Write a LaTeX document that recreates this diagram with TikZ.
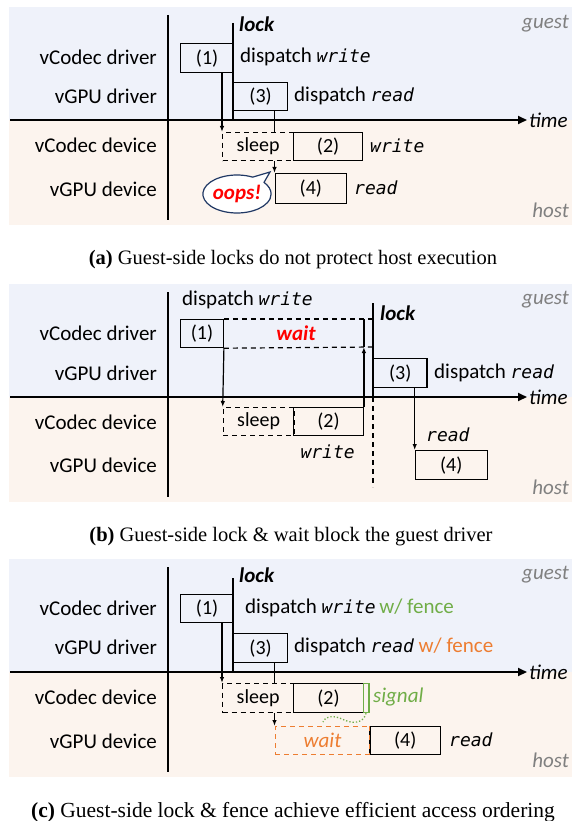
\documentclass[tikz,border=0pt]{standalone}
\usepackage{fontspec}
\setmainfont{Carlito}
\newfontfamily\monofam{DejaVu Sans Mono}
\newfontfamily\capfont{Liberation Serif}
\usetikzlibrary{arrows.meta,shapes.callouts,shapes.geometric}
\definecolor{guestbg}{RGB}{239,242,250}
\definecolor{hostbg}{RGB}{252,244,238}
\definecolor{fgreen}{RGB}{112,173,71}
\definecolor{forange}{RGB}{237,125,49}
\definecolor{bubblecol}{RGB}{32,56,100}
\definecolor{graytxt}{RGB}{128,128,128}
\newcommand{\mw}[1]{{\monofam\itshape\fontsize{18}{20}\selectfont #1}}
\tikzset{
  lab/.style={font=\fontsize{21}{24}\selectfont, inner sep=0pt},
  lane/.style={lab, anchor=east},
  box/.style={draw, line width=1.2pt, inner sep=0pt, anchor=north west, font=\fontsize{20}{22}\selectfont},
  dbox/.style={box, dashed, dash pattern=on 5pt off 4pt},
  axisl/.style={line width=2pt},
  timeax/.style={line width=2pt, -{Triangle[length=9pt,width=8pt]}},
  arr/.style={line width=1.2pt, -{Latex[length=6pt,width=4.5pt]}},
  conn/.style={line width=1.2pt},
  side/.style={lab, anchor=east, text=graytxt, font=\fontsize{21}{24}\selectfont\itshape},
  lockt/.style={lab, anchor=west, font=\fontsize{21}{24}\selectfont\bfseries\itshape},
  captext/.style={inner sep=0pt, font=\capfont\fontsize{20.5}{24}\selectfont}
}
\begin{document}
\begin{tikzpicture}[x=1pt,y=-1pt]
\useasboundingbox (0,0) rectangle (574,821);
% ================= panel (a) =================
\fill[guestbg] (9,7) rectangle (572,120);
\fill[hostbg] (9,120) rectangle (572,225);
\draw[axisl] (167.5,15) -- (167.5,220);
\coordinate (aT0) at (10,120);
\coordinate (aT1) at (527,120);
\draw[timeax] (aT0) -- (aT1);
\node[lab, anchor=west, font=\fontsize{21}{24}\selectfont\itshape] (atime) at (529,120) {time};
\node[side] (aguest) at (569,24) {guest};
\node[side] (ahost) at (569,210) {host};
\node[lane] (al1) at (157,57) {vCodec driver};
\node[lane] (al2) at (157,96) {vGPU driver};
\node[lane] (al3) at (157,145) {vCodec device};
\node[lane] (al4) at (157,189) {vGPU device};
\coordinate (alockT) at (233,23);
\coordinate (alockB) at (233,120);
\draw[conn] (alockT) -- (alockB);
\node[lockt] (alock) at (239,24) {lock};
\node[box, minimum width=53pt, minimum height=29pt] (a1) at (180,43) {(1)};
\node[box, minimum width=54pt, minimum height=28pt] (a3) at (233,82) {(3)};
\node[lab, anchor=west] (ad1) at (240,57) {dispatch \mw{write}};
\node[lab, anchor=west] (ad3) at (294,96) {dispatch \mw{read}};
\node[dbox, minimum width=71pt, minimum height=28pt] (aS) at (222,132) {sleep};
\node[box, minimum width=69pt, minimum height=28pt] (a2) at (293,132) {(2)};
\node[lab, anchor=west] (aw) at (370,146) {\mw{write}};
\node[box, minimum width=71.5pt, minimum height=30pt] (a4) at (274.5,173) {(4)};
\node[lab, anchor=west] (ar) at (354,188) {\mw{read}};
\draw[arr] (a1.south -| aS.north west) -- (aS.north west);
\draw[conn] (a3.south -| a4.north west) -- (aS.north -| a4.north west);
\draw[arr] (aS.south -| a4.north west) -- (a4.north west);
\node[ellipse callout, draw=bubblecol, line width=1.2pt, fill=white, minimum width=62pt, minimum height=38pt, inner sep=0pt,
  callout absolute pointer={(270,172)}, callout pointer arc=25,
  text=red, font=\fontsize{21}{24}\selectfont\bfseries\itshape] (aoops) at (237,194) {oops!};
% ================= panel (b) =================
\fill[guestbg] (9,284) rectangle (572,397);
\fill[hostbg] (9,397) rectangle (572,502);
\draw[axisl] (167.5,292) -- (167.5,497);
\coordinate (bT0) at (10,397);
\coordinate (bT1) at (527,397);
\draw[timeax] (bT0) -- (bT1);
\node[lab, anchor=west, font=\fontsize{21}{24}\selectfont\itshape] (btime) at (529,397) {time};
\node[side] (bguest) at (569,300) {guest};
\node[side] (bhost) at (569,487) {host};
\node[lane] (bl1) at (157,333) {vCodec driver};
\node[lane] (bl2) at (157,373) {vGPU driver};
\node[lane] (bl3) at (157,422) {vCodec device};
\node[lane] (bl4) at (157,465) {vGPU device};
\node[lab, anchor=west] (bd1) at (182,300) {dispatch \mw{write}};
\node[box, minimum width=42.7pt, minimum height=28pt] (b1) at (180,319) {(1)};
\coordinate (bwTR) at (373,319);
\coordinate (bwBR) at (373,347);
\draw[conn, dashed, dash pattern=on 5pt off 4pt] (b1.north east) -- (bwTR);
\draw[conn, dashed, dash pattern=on 5pt off 4pt] (b1.south east) -- (bwBR);
\node[lab, text=red, font=\fontsize{21}{24}\selectfont\bfseries\itshape] (bwait) at (296,333) {wait};
\coordinate (blockT) at (373,303);
\coordinate (blockM) at (373,397);
\coordinate (blockB) at (373,487);
\draw[conn] (blockT) -- (blockM);
\draw[conn, dashed, dash pattern=on 5pt off 4pt] (blockM) -- (blockB);
\node[lockt] (block) at (380,313) {lock};
\node[box, minimum width=53.4pt, minimum height=29pt] (b3) at (373,358) {(3)};
\node[lab, anchor=west] (bd3) at (434,373) {dispatch \mw{read}};
\node[dbox, minimum width=70.7pt, minimum height=28pt] (bS) at (222.7,407) {sleep};
\node[box, minimum width=69.7pt, minimum height=28pt] (b2) at (293,407) {(2)};
\node[lab] (bw) at (327.6,452) {\mw{write}};
\node[box, minimum width=72pt, minimum height=29pt] (b4) at (414.7,450) {(4)};
\node[lab, anchor=west] (br) at (426,435) {\mw{read}};
\draw[arr] (b1.south east) -- (bS.north west);
\coordinate (bup) at (b2.north east |- bwBR);
\draw[arr] (b2.north east) -- (bup);
\draw[conn] (bup) -- (b2.north east |- bwTR);
\draw[arr] (b3.south -| b4.north west) -- (b4.north west);
% ================= panel (c) =================
\fill[guestbg] (9,559) rectangle (572,672);
\fill[hostbg] (9,672) rectangle (572,777);
\draw[axisl] (167.5,567) -- (167.5,772);
\coordinate (cT0) at (10,672);
\coordinate (cT1) at (527,672);
\draw[timeax] (cT0) -- (cT1);
\node[lab, anchor=west, font=\fontsize{21}{24}\selectfont\itshape] (ctime) at (529,672) {time};
\node[side] (cguest) at (569,575) {guest};
\node[side] (chost) at (569,760) {host};
\node[lane] (cl1) at (157,608) {vCodec driver};
\node[lane] (cl2) at (157,647) {vGPU driver};
\node[lane] (cl3) at (157,697) {vCodec device};
\node[lane] (cl4) at (157,741) {vGPU device};
\coordinate (clockT) at (233,578);
\coordinate (clockB) at (233,672);
\draw[conn] (clockT) -- (clockB);
\node[lockt] (clock) at (239,575) {lock};
\node[box, minimum width=53pt, minimum height=28pt] (c1) at (180,594) {(1)};
\node[box, minimum width=54pt, minimum height=29pt] (c3) at (233,633) {(3)};
\node[lab, anchor=west] (cd1) at (245,608) {dispatch \mw{write}\,\textcolor{fgreen}{w/ fence}};
\node[lab, anchor=west] (cd3) at (294,647) {dispatch \mw{read} \textcolor{forange}{w/ fence}};
\node[dbox, minimum width=71pt, minimum height=29pt] (cS) at (222,683) {sleep};
\node[box, minimum width=69.7pt, minimum height=29pt] (c2) at (293,683) {(2)};
\node[box, draw=fgreen, minimum width=5.6pt, minimum height=29pt] (cg) at (362.7,683) {};
\node[lab, anchor=west, text=fgreen, font=\fontsize{21}{24}\selectfont\itshape] (csig) at (373,697) {signal};
\node[dbox, draw=forange, minimum width=94.8pt, minimum height=28pt, text=forange, font=\fontsize{21}{24}\selectfont\itshape] (cW) at (274.5,726) {wait};
\node[box, minimum width=70.7pt, minimum height=28pt] (c4) at (369.3,726) {(4)};
\draw[forange, line width=1.2pt, dashed, dash pattern=on 5pt off 4pt] (c4.north west) -- (c4.south west);
\node[lab, anchor=west] (cr) at (449,740) {\mw{read}};
\draw[arr] (c1.south -| cS.north west) -- (cS.north west);
\draw[conn] (c3.south -| cW.north west) -- (cS.north -| cW.north west);
\draw[arr] (cS.south -| cW.north west) -- (cW.north west);
\draw[fgreen, line width=1.3pt, dotted] (cg.south) .. controls (363,724) and (352,724) .. (342,719) .. controls (333,715) and (325,716) .. (323,722);
% ================= captions =================
\node[captext] (capa) at (293,260) {\textbf{(a)} Guest-side locks do not protect host execution};
\node[captext] (capb) at (291,537) {\textbf{(b)} Guest-side lock \& wait block the guest driver};
\node[captext, font=\capfont\fontsize{21.5}{24}\selectfont] (capc) at (293,812) {\textbf{(c)} Guest-side lock \& fence achieve efficient access ordering};
\end{tikzpicture}
\end{document}
